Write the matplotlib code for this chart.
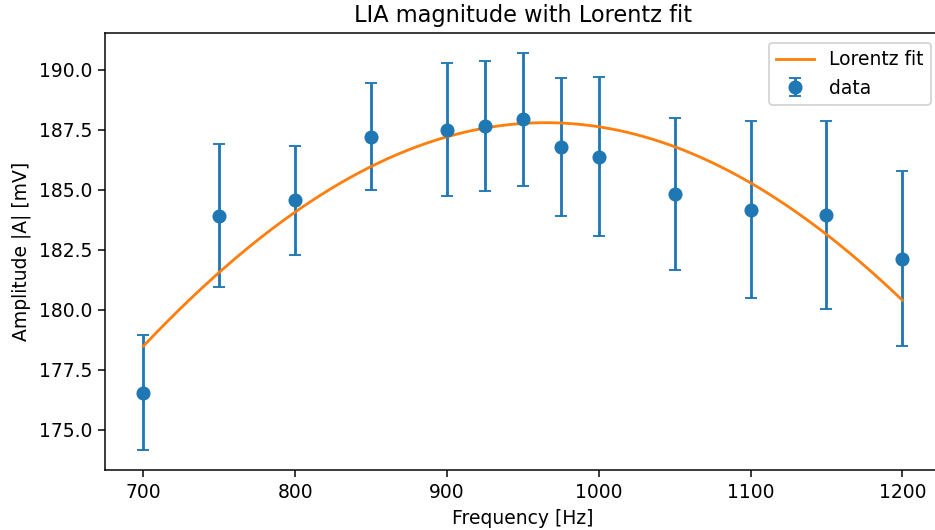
import numpy as np
import matplotlib
matplotlib.use("Agg")
import matplotlib.pyplot as plt
from matplotlib.ticker import MultipleLocator, FormatStrFormatter

# measured LIA magnitude
freq = [700, 750, 800, 850, 900, 925, 950, 975, 1000, 1050, 1100, 1150, 1200]
amp = [176.55, 183.92, 184.56, 187.22, 187.51, 187.66, 187.94, 186.80, 186.38,
       184.82, 184.18, 183.96, 182.12]
amp_err = [2.39, 2.98, 2.27, 2.24, 2.78, 2.72, 2.76, 2.88, 3.31, 3.17, 3.67, 3.92, 3.65]

# Lorentz fit parameters (peak amplitude, centre, half width)
fit_A = 187.8
fit_f0 = 965.0
fit_gamma = 1160.0


def lorentz(f, A, f0, g):
    return A / (1 + ((f - f0) / g) ** 2)


dpi = 135
fig = plt.figure(figsize=(935 / dpi, 530 / dpi), dpi=dpi)
# the original was cropped on the right, so the axes runs past the edge
fig.subplots_adjust(left=0.1128, right=1.0057, bottom=0.1138, top=0.9372)
ax = fig.add_subplot(111)

ax.errorbar(freq, amp, yerr=amp_err, fmt='o', capsize=3, markersize=6.5,
            label='data')
f_fine = np.linspace(min(freq), max(freq), 400)
ax.plot(f_fine, lorentz(f_fine, fit_A, fit_f0, fit_gamma), color='tab:orange',
        label='Lorentz fit')

ax.yaxis.set_major_locator(MultipleLocator(2.5))
ax.yaxis.set_major_formatter(FormatStrFormatter('%.1f'))
ax.set_xlabel("Frequency [Hz]")
ax.set_ylabel("Amplitude |A| [mV]")
ax.set_title("LIA magnitude with Lorentz fit")
ax.legend(loc='upper right')

fig.savefig("out.png", dpi=dpi)
